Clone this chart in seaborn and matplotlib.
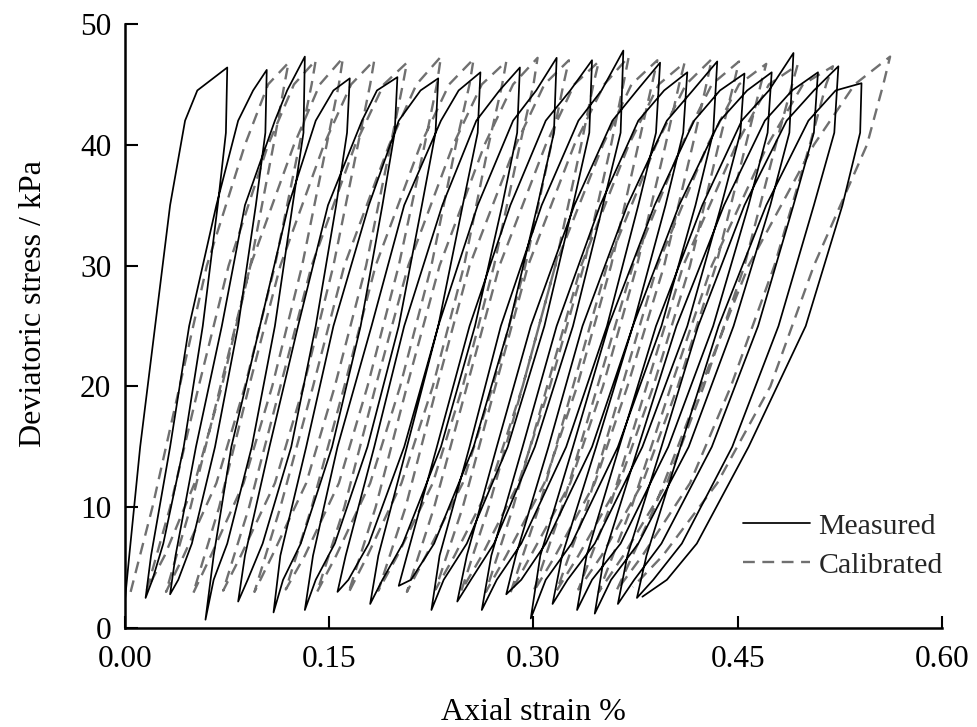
import matplotlib
matplotlib.use("Agg")
import matplotlib.pyplot as plt
import matplotlib.ticker as mticker
import pandas as pd
import seaborn as sns

# ---------------- data ----------------
# Measured: cyclic loops. Loading branch stresses: [valley, *load_levels, peak]
load_levels = [6, 15, 25, 35, 42, 44.5]
# Unloading branch stresses: [peak, *unload_levels, next valley]
unload_levels = [41, 35, 25, 15, 7, 4]

measured_valley_stress = [2.5, 2.5, 2.8, 0.7, 2.2, 1.3, 1.5, 3.0, 2.0, 3.5, 1.5,
                          2.2, 1.5, 2.8, 0.8, 2.0, 1.5, 1.2, 2.0, 2.5, 2.6]
measured_peak_stress = [46.4, 46.2, 47.3, 45.5, 45.6, 45.5, 46.0, 46.4, 47.2, 47.0,
                        47.8, 46.8, 46.0, 46.9, 45.9, 46.0, 47.6, 46.0, 46.5, 45.1]

measured_load_strain = [
    [0.000, 0.003, 0.011, 0.022, 0.033, 0.044, 0.053, 0.075],
    [0.015, 0.019, 0.033, 0.047, 0.067, 0.083, 0.094, 0.104],
    [0.033, 0.037, 0.052, 0.071, 0.088, 0.110, 0.119, 0.132],
    [0.059, 0.065, 0.078, 0.099, 0.120, 0.140, 0.153, 0.165],
    [0.083, 0.088, 0.106, 0.127, 0.149, 0.174, 0.185, 0.200],
    [0.109, 0.114, 0.133, 0.153, 0.179, 0.201, 0.217, 0.230],
    [0.132, 0.138, 0.156, 0.181, 0.205, 0.232, 0.245, 0.261],
    [0.156, 0.162, 0.183, 0.205, 0.233, 0.258, 0.275, 0.290],
    [0.180, 0.186, 0.207, 0.230, 0.259, 0.285, 0.302, 0.317],
    [0.201, 0.207, 0.229, 0.253, 0.283, 0.309, 0.327, 0.343],
    [0.225, 0.231, 0.253, 0.276, 0.306, 0.333, 0.350, 0.366],
    [0.244, 0.251, 0.273, 0.298, 0.330, 0.358, 0.376, 0.393],
    [0.262, 0.269, 0.292, 0.317, 0.349, 0.377, 0.396, 0.413],
    [0.280, 0.287, 0.311, 0.336, 0.369, 0.398, 0.417, 0.435],
    [0.298, 0.305, 0.329, 0.355, 0.389, 0.418, 0.437, 0.455],
    [0.314, 0.321, 0.346, 0.373, 0.407, 0.437, 0.457, 0.475],
    [0.332, 0.339, 0.363, 0.390, 0.424, 0.453, 0.473, 0.491],
    [0.345, 0.352, 0.377, 0.405, 0.440, 0.470, 0.490, 0.509],
    [0.362, 0.369, 0.394, 0.421, 0.455, 0.486, 0.506, 0.524],
    [0.376, 0.383, 0.408, 0.436, 0.471, 0.502, 0.522, 0.541],
]
measured_unload_strain = [
    [0.075, 0.074, 0.068, 0.057, 0.043, 0.028, 0.020, 0.015],
    [0.104, 0.103, 0.096, 0.083, 0.066, 0.049, 0.039, 0.033],
    [0.132, 0.131, 0.123, 0.110, 0.093, 0.075, 0.065, 0.059],
    [0.165, 0.163, 0.155, 0.140, 0.122, 0.101, 0.090, 0.083],
    [0.200, 0.198, 0.189, 0.173, 0.152, 0.129, 0.116, 0.109],
    [0.230, 0.228, 0.218, 0.201, 0.178, 0.154, 0.140, 0.132],
    [0.261, 0.259, 0.248, 0.230, 0.205, 0.179, 0.164, 0.156],
    [0.290, 0.288, 0.277, 0.257, 0.232, 0.204, 0.189, 0.180],
    [0.317, 0.315, 0.303, 0.282, 0.256, 0.227, 0.210, 0.201],
    [0.343, 0.341, 0.329, 0.308, 0.281, 0.251, 0.234, 0.225],
    [0.366, 0.364, 0.351, 0.329, 0.301, 0.271, 0.254, 0.244],
    [0.393, 0.390, 0.377, 0.354, 0.324, 0.291, 0.273, 0.262],
    [0.413, 0.410, 0.397, 0.373, 0.343, 0.309, 0.291, 0.280],
    [0.435, 0.432, 0.419, 0.394, 0.362, 0.328, 0.309, 0.298],
    [0.455, 0.452, 0.438, 0.413, 0.380, 0.345, 0.325, 0.314],
    [0.475, 0.472, 0.458, 0.432, 0.399, 0.364, 0.343, 0.332],
    [0.491, 0.488, 0.474, 0.447, 0.414, 0.377, 0.357, 0.345],
    [0.509, 0.506, 0.491, 0.465, 0.431, 0.394, 0.374, 0.362],
    [0.524, 0.521, 0.506, 0.480, 0.446, 0.409, 0.388, 0.376],
    [0.541, 0.540, 0.527, 0.500, 0.458, 0.420, 0.398, 0.380],
]

# Calibrated loops
cal_load_levels = [10, 20, 30, 40, 45]
cal_unload_levels = [45, 40, 30, 20, 12, 6]

calibrated_valley_stress = [3.0, 3.2, 3.0, 2.9, 3.1, 3.0, 3.2, 3.0, 2.9, 3.1, 3.0,
                            3.2, 3.1, 3.0, 2.9, 3.0, 3.1, 3.2, 3.0, 3.1, 3.4]
calibrated_peak_stress = [46.8, 47.0, 47.2, 47.0, 46.8, 47.3, 47.1, 46.9, 47.2, 47.0,
                          46.9, 47.3, 47.0, 46.8, 47.1, 46.9, 46.7, 46.6, 46.5, 47.3]

calibrated_load_strain = [
    [0.004, 0.020, 0.040, 0.060, 0.088, 0.105, 0.120],
    [0.016, 0.033, 0.054, 0.076, 0.105, 0.124, 0.140],
    [0.030, 0.048, 0.070, 0.092, 0.124, 0.143, 0.160],
    [0.050, 0.069, 0.091, 0.114, 0.146, 0.166, 0.183],
    [0.072, 0.091, 0.114, 0.137, 0.169, 0.190, 0.207],
    [0.095, 0.114, 0.138, 0.161, 0.194, 0.214, 0.232],
    [0.118, 0.137, 0.161, 0.184, 0.217, 0.238, 0.256],
    [0.141, 0.161, 0.184, 0.208, 0.241, 0.262, 0.280],
    [0.164, 0.184, 0.207, 0.231, 0.264, 0.285, 0.303],
    [0.186, 0.206, 0.229, 0.253, 0.287, 0.308, 0.326],
    [0.207, 0.227, 0.251, 0.275, 0.309, 0.330, 0.348],
    [0.228, 0.248, 0.272, 0.296, 0.330, 0.352, 0.370],
    [0.247, 0.267, 0.292, 0.316, 0.351, 0.372, 0.391],
    [0.265, 0.285, 0.310, 0.335, 0.370, 0.392, 0.411],
    [0.283, 0.304, 0.329, 0.354, 0.390, 0.412, 0.431],
    [0.300, 0.321, 0.347, 0.373, 0.409, 0.431, 0.451],
    [0.317, 0.339, 0.365, 0.391, 0.428, 0.451, 0.471],
    [0.333, 0.356, 0.383, 0.410, 0.449, 0.473, 0.494],
    [0.348, 0.372, 0.401, 0.431, 0.472, 0.498, 0.520],
    [0.361, 0.389, 0.423, 0.458, 0.506, 0.536, 0.562],
]
calibrated_unload_strain = [
    [0.120, 0.117, 0.109, 0.092, 0.071, 0.051, 0.029, 0.016],
    [0.140, 0.137, 0.128, 0.110, 0.088, 0.067, 0.043, 0.030],
    [0.160, 0.157, 0.148, 0.130, 0.108, 0.087, 0.063, 0.050],
    [0.183, 0.180, 0.171, 0.153, 0.131, 0.110, 0.085, 0.072],
    [0.207, 0.204, 0.195, 0.177, 0.154, 0.133, 0.108, 0.095],
    [0.232, 0.229, 0.220, 0.201, 0.178, 0.157, 0.132, 0.118],
    [0.256, 0.253, 0.243, 0.225, 0.202, 0.180, 0.155, 0.141],
    [0.280, 0.277, 0.267, 0.249, 0.226, 0.203, 0.178, 0.164],
    [0.303, 0.300, 0.290, 0.271, 0.248, 0.226, 0.200, 0.186],
    [0.326, 0.322, 0.313, 0.294, 0.270, 0.248, 0.221, 0.207],
    [0.348, 0.344, 0.335, 0.316, 0.292, 0.269, 0.242, 0.228],
    [0.370, 0.366, 0.357, 0.337, 0.312, 0.289, 0.262, 0.247],
    [0.391, 0.387, 0.377, 0.357, 0.332, 0.308, 0.280, 0.265],
    [0.411, 0.407, 0.397, 0.376, 0.351, 0.327, 0.298, 0.283],
    [0.431, 0.427, 0.417, 0.396, 0.369, 0.345, 0.316, 0.300],
    [0.451, 0.447, 0.436, 0.415, 0.388, 0.363, 0.333, 0.317],
    [0.471, 0.467, 0.456, 0.434, 0.406, 0.380, 0.350, 0.333],
    [0.494, 0.490, 0.478, 0.455, 0.425, 0.398, 0.366, 0.348],
    [0.520, 0.515, 0.503, 0.477, 0.445, 0.415, 0.380, 0.361],
    [0.562, 0.557, 0.545, 0.506, 0.474, 0.435, 0.395, 0.373],
]

x_ticks = [0.00, 0.15, 0.30, 0.45, 0.60]
y_ticks = [0, 10, 20, 30, 40, 50]


def build_path(load_x, unload_x, valleys, peaks, l_lv, u_lv, name):
    xs, ys = [], []
    for i in range(len(peaks)):
        xs += list(load_x[i])
        ys += [valleys[i]] + list(l_lv) + [peaks[i]]
        xs += list(unload_x[i][1:])
        ys += list(u_lv) + [valleys[i + 1]]
    return pd.DataFrame({"strain": xs, "stress": ys, "series": name,
                         "order": range(len(xs))})


df_meas = build_path(measured_load_strain, measured_unload_strain,
                     measured_valley_stress, measured_peak_stress,
                     load_levels, unload_levels, "Measured")
df_cal = build_path(calibrated_load_strain, calibrated_unload_strain,
                    calibrated_valley_stress, calibrated_peak_stress,
                    cal_load_levels, cal_unload_levels, "Calibrated")

# ---------------- plotting ----------------
sns.set_theme(style="ticks")
plt.rcParams["font.family"] = ["Liberation Serif", "DejaVu Serif"]

fig = plt.figure(figsize=(9.78, 7.27), dpi=100)
ax = fig.add_axes([0.128, 0.136, 0.835, 0.831])

sns.lineplot(data=df_meas, x="strain", y="stress", sort=False, estimator=None,
             color="black", linewidth=1.25, label="Measured", ax=ax, zorder=3)
sns.lineplot(data=df_cal, x="strain", y="stress", sort=False, estimator=None,
             color="#707070", linewidth=1.7, label="Calibrated", ax=ax, zorder=2)
ax.lines[1].set_dashes([5, 3.2])

ax.set_xlim(0, 0.6)
ax.set_ylim(0, 50)
ax.set_xticks(x_ticks)
ax.set_yticks(y_ticks)
ax.xaxis.set_major_formatter(mticker.FormatStrFormatter("%.2f"))
sns.despine(ax=ax)
for side in ["left", "bottom"]:
    ax.spines[side].set_linewidth(1.8)
    ax.spines[side].set_color("black")
ax.tick_params(axis="both", direction="in", length=9, width=1.5,
               labelsize=22.5, colors="black")
ax.tick_params(axis="x", pad=12)
ax.tick_params(axis="y", pad=10)

ax.set_xlabel("Axial strain %", fontsize=23, color="black")
ax.set_ylabel("Deviatoric stress / kPa", fontsize=23, color="black")
ax.xaxis.set_label_coords(0.5, -0.115)
ax.yaxis.set_label_coords(-0.095, 0.538)

leg = ax.legend(loc="lower left", bbox_to_anchor=(0.742, 0.062), frameon=False,
                fontsize=21.5, handlelength=2.25, handletextpad=0.27,
                labelspacing=0.4, borderaxespad=0)
leg.get_lines()[1].set_dashes([5, 3.2])

fig.savefig("out.png", dpi=100)
